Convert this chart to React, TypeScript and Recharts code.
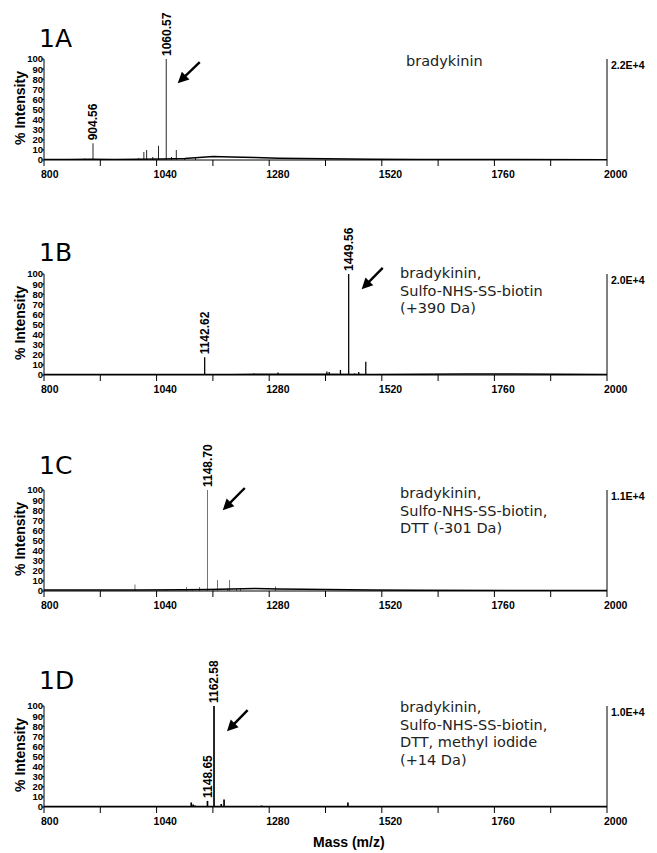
import React from "react"
import { ComposedChart, Bar, Line, XAxis, YAxis, ReferenceLine, LabelList } from "recharts"

// axis ticks
const massTicks = [800, 920, 1040, 1160, 1280, 1400, 1520, 1640, 1760, 1880, 2000]
const massLabels = [800, 1040, 1280, 1520, 1760, 2000]
const intensityTicks = [0, 10, 20, 30, 40, 50, 60, 70, 80, 90, 100]

const panelNames = ["1A", "1B", "1C", "1D"]
const scaleLabels = ["2.2E+4", "2.0E+4", "1.1E+4", "1.0E+4"]
const sampleNotes = [
  ["bradykinin"],
  ["bradykinin,", "Sulfo-NHS-SS-biotin", "(+390 Da)"],
  ["bradykinin,", "Sulfo-NHS-SS-biotin,", "DTT (-301 Da)"],
  ["bradykinin,", "Sulfo-NHS-SS-biotin,", "DTT, methyl iodide", "(+14 Da)"],
]

// 1A bradykinin
const peakMzA = [858, 887, 904.56, 1002, 1013, 1019, 1032, 1044, 1060.57, 1072, 1082, 1100, 1123]
const peakIntA = [1, 1.5, 16.5, 2, 8, 10, 3, 14, 100, 3, 10, 1.5, 2.5]
const peakTagA = ["", "", "904.56", "", "", "", "", "", "1060.57", "", "", "", ""]
const baseMzA = [800, 850, 900, 950, 1000, 1050, 1100, 1130, 1160, 1200, 1250, 1300, 1350, 1400, 1450, 1500, 1600, 1700, 1800, 2000]
const baseIntA = [0.5, 0.6, 0.8, 0.6, 0.8, 1, 1.5, 2.5, 3.5, 3, 2.5, 1.8, 1.5, 1.2, 1, 0.8, 0.6, 0.5, 0.4, 0.3]

// 1B + Sulfo-NHS-SS-biotin
const peakMzB = [1098, 1142.62, 1247, 1288, 1299, 1403, 1408, 1432, 1449.56, 1462, 1471, 1486]
const peakIntB = [1, 17.5, 1.5, 1, 2.5, 3.5, 3, 5, 100, 1.5, 3, 13]
const peakTagB = ["", "1142.62", "", "", "", "", "", "", "1449.56", "", "", ""]
const baseMzB = [800, 1000, 1200, 1400, 1500, 1600, 1700, 1800, 1900, 2000]
const baseIntB = [0.5, 0.5, 0.6, 0.8, 0.6, 0.8, 1, 0.9, 0.8, 0.6]

// 1C + DTT
const peakMzC = [865, 994, 1061, 1104, 1116, 1132, 1148.7, 1162, 1170, 1192, 1196, 1210, 1219, 1293]
const peakIntC = [1, 6.5, 1, 4, 1.5, 4, 100, 1.5, 11, 3, 11, 2, 2, 4.5]
const peakTagC = ["", "", "", "", "", "", "1148.70", "", "", "", "", "", "", ""]
const baseMzC = [800, 900, 1000, 1100, 1150, 1200, 1250, 1300, 1400, 1500, 1600, 1800, 2000]
const baseIntC = [1, 1, 1, 1.2, 1.5, 2, 2.5, 2, 1.5, 1, 0.8, 0.6, 0.5]

// 1D + methyl iodide
const peakMzD = [1008, 1114, 1118, 1122, 1148.65, 1162.58, 1178, 1184, 1200, 1226, 1264, 1448]
const peakIntD = [1, 4.5, 2.5, 1.5, 6, 100, 3, 7.5, 1, 0.8, 1.5, 4.5]
const peakTagD = ["", "", "", "", "1148.65", "1162.58", "", "", "", "", "", ""]
const baseMzD = [800, 1000, 1200, 1400, 1600, 2000]
const baseIntD = [0.4, 0.5, 0.6, 0.5, 0.4, 0.4]

type Row = { mz: number; base?: number; peak?: number; tag?: string }

function buildRows(pm: number[], pi: number[], pt: string[], bm: number[], bi: number[]): Row[] {
  const rows: Row[] = bm.map((m, i) => ({ mz: m, base: bi[i] }))
  pm.forEach((m, i) => rows.push({ mz: m, peak: pi[i], tag: pt[i] || undefined }))
  return rows.sort((a, b) => a.mz - b.mz)
}

const spectra = [
  buildRows(peakMzA, peakIntA, peakTagA, baseMzA, baseIntA),
  buildRows(peakMzB, peakIntB, peakTagB, baseMzB, baseIntB),
  buildRows(peakMzC, peakIntC, peakTagC, baseMzC, baseIntC),
  buildRows(peakMzD, peakIntD, peakTagD, baseMzD, baseIntD),
]

// layout (pixels / data-space arrow ends)
const chartTops = [0, 215, 431, 647]
const titleYs = [47, 261, 474, 689]
const noteXs = [406, 400, 400, 400]
const noteYs = [66, 278, 498, 712]
const arrows = [
  { from: { x: 1132, y: 97 }, to: { x: 1085, y: 76 } },
  { from: { x: 1522, y: 106 }, to: { x: 1477, y: 85 } },
  { from: { x: 1228, y: 102 }, to: { x: 1181, y: 80 } },
  { from: { x: 1234, y: 96 }, to: { x: 1190, y: 75 } },
]

const W = 657
const H = 216
const PLOT_TOP = 59
const numFont = "'Liberation Sans', Arial, sans-serif"
const textFont = "'DejaVu Sans', Verdana, sans-serif"

function MassTick({ x, y, payload }: any) {
  if (!massLabels.includes(payload.value)) return <g />
  return (
    <text x={x - 3} y={y + 10} fontSize={10.5} fontWeight="bold" fontFamily={numFont} fill="#000">
      {payload.value}
    </text>
  )
}

function IntensityTick({ x, y, payload }: any) {
  return (
    <text x={x + 1} y={y + 3.4} textAnchor="end" fontSize={9.5} fontWeight="bold" fontFamily={numFont} fill="#000">
      {payload.value}
    </text>
  )
}

function PeakLabel({ x, y, width, value }: any) {
  if (!value) return null
  const cx = x + width / 2
  const ty = y - 3
  return (
    <text
      x={cx}
      y={ty}
      dy={4.3}
      transform={`rotate(-90 ${cx} ${ty})`}
      fontSize={12}
      fontWeight="bold"
      fontFamily={numFont}
      fill="#000"
    >
      {value}
    </text>
  )
}

function Arrow({ x1, y1, x2, y2 }: any) {
  const dx = x2 - x1
  const dy = y2 - y1
  const len = Math.sqrt(dx * dx + dy * dy)
  const ux = dx / len
  const uy = dy / len
  const head = 11
  const half = 5.5
  const bx = x2 - ux * head
  const by = y2 - uy * head
  return (
    <g>
      <line x1={x1} y1={y1} x2={bx + ux} y2={by + uy} stroke="#000" strokeWidth={2.4} />
      <polygon
        points={`${x2},${y2} ${bx - uy * half},${by + ux * half} ${bx + uy * half},${by - ux * half}`}
        fill="#000"
      />
    </g>
  )
}

function ScaleLabel({ viewBox, text }: any) {
  if (!viewBox) return null
  return (
    <text x={viewBox.x + 4} y={viewBox.y + 10} fontSize={10.5} fontWeight="bold" fontFamily={numFont} fill="#000">
      {text}
    </text>
  )
}

function SpectrumPanel({ index }: { index: number }) {
  const arrow = arrows[index]
  return (
    <div style={{ position: "absolute", left: 0, top: chartTops[index] }}>
      <ComposedChart width={W} height={H} data={spectra[index]} margin={{ top: PLOT_TOP, right: 50, bottom: 26, left: 0 }}>
        <XAxis
          dataKey="mz"
          type="number"
          domain={[800, 2000]}
          ticks={massTicks}
          interval={0}
          allowDataOverflow
          height={30}
          tickSize={6}
          axisLine={{ stroke: "#000" }}
          tickLine={{ stroke: "#000" }}
          tick={<MassTick />}
        />
        <YAxis
          type="number"
          domain={[0, 100]}
          ticks={intensityTicks}
          interval={0}
          allowDataOverflow
          width={44}
          tickSize={2}
          tickMargin={0}
          axisLine={{ stroke: "#000" }}
          tickLine={{ stroke: "#000" }}
          tick={<IntensityTick />}
        />
        <ReferenceLine x={2000} stroke="#000" label={<ScaleLabel text={scaleLabels[index]} />} />
        <Line
          dataKey="base"
          type="linear"
          stroke="#000"
          strokeWidth={1.5}
          dot={false}
          connectNulls
          isAnimationActive={false}
        />
        <Bar dataKey="peak" barSize={2} fill="#000" isAnimationActive={false}>
          <LabelList dataKey="tag" content={<PeakLabel />} />
        </Bar>
        <ReferenceLine segment={[arrow.from, arrow.to]} ifOverflow="visible" shape={<Arrow />} />
      </ComposedChart>
    </div>
  )
}

export default function App() {
  return (
    <div style={{ position: "fixed", left: 0, top: 0, width: W, height: 853, background: "#fff", overflow: "hidden" }}>
      {panelNames.map((_, i) => (
        <SpectrumPanel key={i} index={i} />
      ))}
      <svg width={W} height={853} style={{ position: "absolute", left: 0, top: 0, pointerEvents: "none" }}>
        {panelNames.map((name, i) => {
          const plotTop = chartTops[i] + PLOT_TOP
          return (
            <g key={name}>
              <text x={39} y={titleYs[i]} fontSize={25} fontFamily={textFont} fill="#000">
                {name}
              </text>
              <text
                x={24.5}
                y={plotTop + 49}
                transform={`rotate(-90 24.5 ${plotTop + 49})`}
                textAnchor="middle"
                fontSize={14}
                fontWeight="bold"
                fontFamily={numFont}
                fill="#000"
              >
                % Intensity
              </text>
              {sampleNotes[i].map((line, j) => (
                <text key={j} x={noteXs[i]} y={noteYs[i] + j * 17.7} fontSize={14.5} fontFamily={textFont} fill="#222">
                  {line}
                </text>
              ))}
            </g>
          )
        })}
        <text x={313} y={847} fontSize={14} fontWeight="bold" fontFamily={numFont} fill="#000">
          Mass (m/z)
        </text>
      </svg>
    </div>
  )
}
